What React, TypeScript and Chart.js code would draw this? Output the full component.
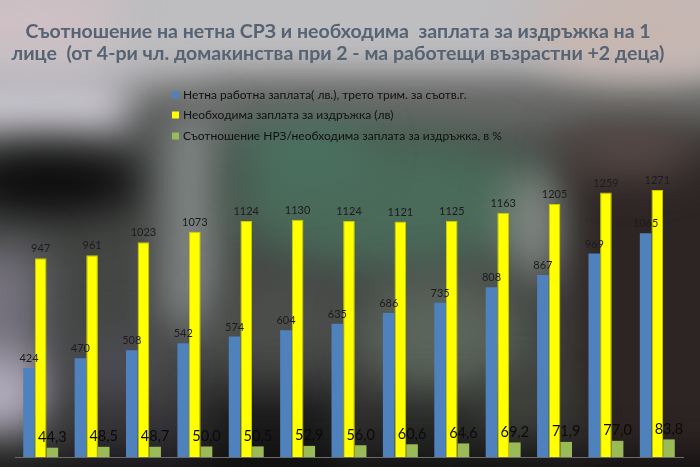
import { useEffect, useRef } from 'react';
import { Chart, registerables, Plugin } from 'chart.js';

Chart.register(...registerables);

const years = ['2008', '2009', '2010', '2011', '2012', '2013', '2014', '2015', '2016', '2017', '2018', '2019', '2020'];
const netWage = [424, 470, 508, 542, 574, 604, 635, 686, 735, 808, 867, 969, 1065];
const neededWage = [947, 961, 1023, 1073, 1124, 1130, 1124, 1121, 1125, 1163, 1205, 1259, 1271];
const ratio = [44.3, 48.5, 48.7, 50.0, 50.5, 52.9, 56.0, 60.6, 64.6, 69.2, 71.9, 77.0, 83.8];

const seriesNames = [
  'Нетна работна заплата( лв.), трето трим. за съотв.г.',
  'Необходима заплата за издръжка (лв)',
  'Съотношение НРЗ/необходима заплата за издръжка, в %',
];
const titleLines = [
  'Съотношение на нетна СРЗ и необходима  заплата за издръжка на 1',
  'лице  (от 4-ри чл. домакинства при 2 - ма работещи възрастни +2 деца)',
];

const FONT = 'Lato, "Open Sans", sans-serif';

// размазан фон, горе-долу като снимката
const backgroundPlugin: Plugin<'bar'> = {
  id: 'photoBg',
  beforeDraw: (chart) => {
    const { ctx, width, height } = chart;
    ctx.save();
    ctx.fillStyle = '#444644';
    ctx.fillRect(0, 0, width, height);
    ctx.filter = 'blur(22px)';
    const rect = (x: number, y: number, w: number, h: number, c: string) => {
      ctx.fillStyle = c;
      ctx.fillRect(x, y, w, h);
    };
    const ell = (x: number, y: number, rx: number, ry: number, c: string) => {
      ctx.fillStyle = c;
      ctx.beginPath();
      ctx.ellipse(x, y, rx, ry, 0, 0, Math.PI * 2);
      ctx.fill();
    };
    rect(-60, -60, 820, 150, '#bebdc0');
    rect(200, 88, 560, 45, '#6c6d6b');
    ell(640, 30, 110, 50, '#c6b6b0');
    ell(30, 20, 90, 40, '#cfc0c4');
    rect(-60, 75, 190, 60, '#d2cfd8');
    ell(50, 182, 95, 32, '#080808');
    rect(165, 110, 50, 220, '#8a908e');
    ell(390, 200, 160, 70, '#4a6a5a');
    ell(300, 150, 70, 30, '#4b7262');
    ell(540, 225, 35, 55, '#858a86');
    rect(570, 140, 200, 400, '#2d2524');
    ell(630, 150, 70, 25, '#5a4c4a');
    ell(280, 320, 70, 40, '#4c4e4c');
    ell(440, 335, 80, 60, '#5a645a');
    rect(-60, 250, 100, 160, '#76737f');
    ell(0, 395, 45, 40, '#b5afc0');
    ell(120, 370, 50, 40, '#4c4c54');
    rect(60, 400, 150, 120, '#363439');
    rect(200, 390, 150, 130, '#191919');
    rect(350, 400, 220, 120, '#262826');
    ell(520, 410, 35, 30, '#44463f');
    rect(-60, 458, 820, 80, '#0e0c0d');
    ctx.restore();
  },
};

const textPlugin: Plugin<'bar'> = {
  id: 'texts',
  afterDraw: (chart) => {
    const { ctx } = chart;
    ctx.save();
    // заглавие
    ctx.fillStyle = '#566373';
    ctx.font = `bold 19.5px ${FONT}`;
    ctx.textAlign = 'center';
    ctx.textBaseline = 'middle';
    ctx.fillText(titleLines[0], 338, 32);
    ctx.fillText(titleLines[1], 338, 54);

    // легенда
    const colors = ['#4f81bd', '#ffff00', '#9bbb59'];
    const rows = [95, 115, 136];
    ctx.textAlign = 'left';
    ctx.font = `12px ${FONT}`;
    seriesNames.forEach((name, i) => {
      ctx.fillStyle = colors[i];
      ctx.fillRect(172, rows[i] - 3.5, 7, 7);
      ctx.fillStyle = '#111111';
      ctx.fillText(name, 183, rows[i]);
    });

    // стойности над стълбовете
    chart.data.datasets.forEach((ds, di) => {
      const meta = chart.getDatasetMeta(di);
      meta.data.forEach((bar, i) => {
        const v = ds.data[i] as number;
        ctx.textAlign = 'center';
        ctx.textBaseline = 'bottom';
        if (di === 2) {
          ctx.font = `14.5px ${FONT}`;
          ctx.fillStyle = '#0a0a0a';
          ctx.fillText(v.toFixed(1).replace('.', ','), bar.x, bar.y - 3);
        } else {
          ctx.font = `11px ${FONT}`;
          ctx.fillStyle = '#1c1c1c';
          ctx.fillText(String(v), bar.x, bar.y - 4);
        }
      });
    });
    ctx.restore();
  },
};

const App = () => {
  const chartRef = useRef<HTMLCanvasElement>(null);
  const chartInstance = useRef<Chart<'bar', number[], string> | null>(null);

  useEffect(() => {
    document.body.style.margin = '0';
    if (!chartRef.current) return;
    const ctx = chartRef.current.getContext('2d');
    if (!ctx) return;

    if (chartInstance.current) {
      chartInstance.current.destroy();
    }

    chartInstance.current = new Chart(ctx, {
      type: 'bar',
      data: {
        labels: years,
        datasets: [
          { label: seriesNames[0], data: netWage, backgroundColor: '#4f81bd' },
          { label: seriesNames[1], data: neededWage, backgroundColor: '#ffff00', borderColor: '#c9c900', borderWidth: 1 },
          { label: seriesNames[2], data: ratio, backgroundColor: '#9bbb59' },
        ],
      },
      options: {
        responsive: true,
        maintainAspectRatio: false,
        animation: false,
        layout: { padding: { top: 163, left: 15, right: 17, bottom: 8 } },
        datasets: { bar: { categoryPercentage: 0.68, barPercentage: 1 } },
        scales: {
          y: { display: false, min: 0, max: 1400 },
          x: {
            grid: { display: false, drawTicks: false },
            border: { display: true, color: '#6a6a6a', width: 1 },
            ticks: { color: '#222222', font: { family: FONT, size: 11 }, padding: 8 },
            afterFit: (scale) => {
              scale.height = 25;
            },
          },
        },
        plugins: {
          legend: { display: false },
          title: { display: false },
          tooltip: { enabled: false },
        },
      },
      plugins: [backgroundPlugin, textPlugin],
    });

    return () => {
      if (chartInstance.current) {
        chartInstance.current.destroy();
        chartInstance.current = null;
      }
    };
  }, []);

  return (
    <div style={{ position: 'relative', width: 700, height: 467, overflow: 'hidden' }}>
      <div style={{ position: 'absolute', left: 0, top: 0, width: 700, height: 490 }}>
        <canvas ref={chartRef} />
      </div>
    </div>
  );
};

export default App;
